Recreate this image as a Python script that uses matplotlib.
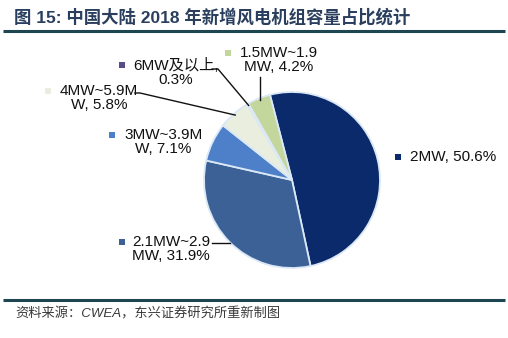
import matplotlib
matplotlib.use("Agg")
import matplotlib.pyplot as plt
import numpy as np

# ---- data ----
categories = ["2MW", "2.1MW~2.9MW", "3MW~3.9MW", "4MW~5.9MW", "6MW及以上", "1.5MW~1.9MW"]
label_texts = ["2MW, 50.6%", "2.1MW~2.9\nMW, 31.9%", "3MW~3.9M\nW, 7.1%",
               "4MW~5.9M\nW, 5.8%", "6MW及以上,\n0.3%", "1.5MW~1.9\nMW, 4.2%"]
values = [50.6, 31.9, 7.1, 5.8, 0.3, 4.2]
colors = ["#0b2a6b", "#3b6197", "#4d80c9", "#e9eedf", "#5a4b8a", "#c3d69b"]

title = "图 15: 中国大陆 2018 年新增风电机组容量占比统计"
source = "资料来源：CWEA，东兴证券研究所重新制图"

W, H = 508, 338
fig = plt.figure(figsize=(W / 100, H / 100), dpi=100)
ax = fig.add_axes([0, 0, 1, 1])
ax.set_xlim(0, W)
ax.set_ylim(0, H)
ax.axis("off")

fam = ["Liberation Sans", "Noto Sans CJK SC", "DejaVu Sans"]

def Y(y):  # image y -> data y
    return H - y

cx, cy, R = 292, Y(180), 88
start = 104.5
wedges, _ = ax.pie(values, colors=colors, startangle=start, counterclock=False,
                   center=(cx, cy), radius=R, frame=True,
                   wedgeprops=dict(edgecolor="#dbe8f6", linewidth=1.3))
ax.set_xlim(0, W)
ax.set_ylim(0, H)
ax.set_aspect("auto")
ax.axis("off")

# label positions (left x of square, center y) in image coords
label_pos = [(398, 157), (122, 249), (112, 142), (48, 98), (122, 72), (228, 60)]
text_dx = [12, 10, 12, 12, 11, 12]
for i, (lx, ly) in enumerate(label_pos):
    ax.scatter([lx], [Y(ly - 7) if "\n" in label_texts[i] else Y(ly)], marker="s", s=14,
               color=colors[i], edgecolors="none", zorder=5)
    ax.text(lx + text_dx[i], Y(ly), label_texts[i], fontsize=11, family=fam,
            ha="left", va="center", multialignment="center", linespacing=1.0,
            color="#111111")

def edge_pt(i, r=1.0):
    w = wedges[i]
    mid = np.deg2rad((w.theta1 + w.theta2) / 2)
    return cx + R * r * np.cos(mid), cy + R * r * np.sin(mid)

lc = "#111111"
# 6MW leader
ex, ey = edge_pt(4, 0.98)
ax.plot([212, 218, ex], [Y(69), Y(69), ey], color=lc, lw=1)
# 4MW leader
ex, ey = edge_pt(3, 0.98)
ax.plot([135, 140, ex], [Y(93), Y(93), ey], color=lc, lw=1)
# 1.5MW leader
ex, ey = edge_pt(5, 0.98)
ax.plot([ex, ex], [Y(77), ey], color=lc, lw=1)
# 2.1MW leader
ex, ey = edge_pt(1, 0.99)
ax.plot([212, ex], [Y(243), Y(243)], color=lc, lw=1)

# title and rules
fig.text(14 / W, 1 - 17 / H, title, fontsize=12.5, fontweight="bold",
         family=["Liberation Sans", "Noto Sans CJK SC"], color="#2a3f5e",
         ha="left", va="center")
ax.plot([3, 505], [Y(31), Y(31)], color="#1d4650", lw=2.2, solid_capstyle="butt")
ax.plot([3, 505], [Y(300), Y(300)], color="#1d4650", lw=2.2, solid_capstyle="butt")
fig.text(15 / W, 1 - 314 / H, source, fontsize=9.5, style="italic",
         family=["Liberation Sans", "Noto Sans CJK SC"], color="#3a3a3a",
         ha="left", va="center")

fig.savefig("out.png", dpi=100, facecolor="white")
